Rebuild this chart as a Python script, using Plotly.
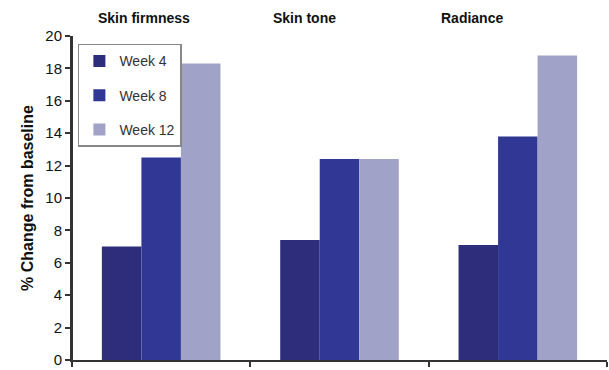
import plotly.graph_objects as go

categories = ["Skin firmness", "Skin tone", "Radiance"]
series_names = ["Week 4", "Week 8", "Week 12"]
week4 = [7.0, 7.4, 7.1]
week8 = [12.5, 12.4, 13.8]
week12 = [18.3, 12.4, 18.8]
colors = ["#2e2d7b", "#313795", "#a0a3c7"]

fig = go.Figure()
for name, vals, c in zip(series_names, [week4, week8, week12], colors):
    fig.add_trace(go.Bar(x=categories, y=vals, name=name, marker_color=c,
                         marker_line_width=0, legendgroup=name))

plot_top, plot_bottom = 36, 6
ph = 370 - plot_top - plot_bottom
title_pos = [0.135, 0.435, 0.748]
for cat, px in zip(categories, title_pos):
    fig.add_annotation(text="<b>" + cat + "</b>", x=px, xref="paper",
                       y=(370 - plot_bottom - 18) / ph, yref="paper",
                       yanchor="middle", showarrow=False, xanchor="center",
                       font=dict(family="Liberation Sans, Arial", size=14, color="#111"))

# y-axis line drawn as a paper-referenced shape
fig.add_shape(type="line", xref="paper", yref="paper", x0=0, x1=0, y0=0, y1=1,
              line=dict(color="#333333", width=2), layer="above")

fig.update_layout(
    width=609, height=370,
    margin=dict(l=72, r=2, t=plot_top, b=plot_bottom),
    barmode="group", bargap=0.335, bargroupgap=0,
    plot_bgcolor="white", paper_bgcolor="white",
    font=dict(family="Liberation Sans, Arial", color="#111"),
    showlegend=True,
    legend=dict(x=0.011, y=(370 - plot_bottom - 44) / ph, xanchor="left", yanchor="top",
                bordercolor="#888", borderwidth=1.5, bgcolor="white",
                font=dict(size=14, color="#333"), tracegroupgap=13,
                itemwidth=30),
    xaxis=dict(showline=True, linecolor="#333333", linewidth=2, ticks="outside",
               tickson="boundaries", ticklen=5, tickcolor="#333333", tickwidth=1.5,
               showticklabels=False, showgrid=False, zeroline=False),
    yaxis=dict(range=[0, 20], dtick=2, showline=True, linecolor="#333333", linewidth=2,
               ticks="outside", ticklen=5, tickcolor="#333333", tickwidth=1.5,
               showgrid=False, zeroline=False, ticklabeloverflow="allow",
               tickfont=dict(size=15, color="#111", family="Liberation Sans, Arial"),
               title=dict(text="<b>% Change from baseline</b>", standoff=8,
                          font=dict(size=16, color="#111"))),
)

fig.write_html("out.html", config={"displayModeBar": False},
               post_script="document.body.style.margin='0';document.body.style.padding='0';")
